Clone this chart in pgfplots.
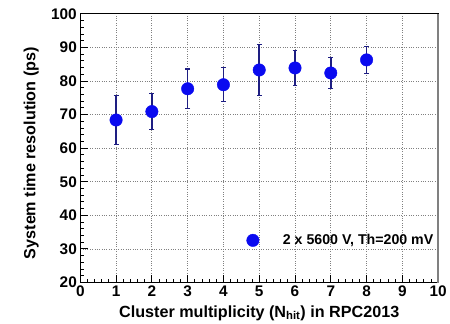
\documentclass[border=0pt]{standalone}
\usepackage{pgfplots}
\pgfplotsset{compat=1.18}
\usepackage{fontspec}
\setmainfont{Liberation Sans}
\definecolor{mblue}{RGB}{10,10,240}
\definecolor{ebar}{RGB}{30,30,130}
\begin{document}
\begin{tikzpicture}
\begin{axis}[
 scale only axis, width=361pt, height=271pt,
 xmin=0, xmax=10, ymin=20, ymax=100,
 xtick={0,1,2,3,4,5,6,7,8,9,10}, ytick={20,30,40,50,60,70,80,90,100},
 xticklabels={\textbf{0},\textbf{1},\textbf{2},\textbf{3},\textbf{4},\textbf{5},\textbf{6},\textbf{7},\textbf{8},\textbf{9},\textbf{10}},
 yticklabels={\textbf{20},\textbf{30},\textbf{40},\textbf{50},\textbf{60},\textbf{70},\textbf{80},\textbf{90},\textbf{100}},
 minor x tick num=4, minor y tick num=4,
 tick align=inside, xtick pos=bottom, ytick pos=left,
 major tick length=8pt, minor tick length=4pt,
 grid=major, major grid style={dotted, gray, line width=0.8pt},
 axis line style={line width=1pt},
 every tick/.style={black, line width=0.9pt},
 ticklabel style={font=\bfseries\fontsize{15.5}{15.5}\selectfont},
 xlabel={Cluster multiplicity (N$_{\mathbf{hit}}$) in RPC2013},
 ylabel={System time resolution (ps)},
 label style={font=\bfseries\fontsize{16.3}{16.3}\selectfont},
 xlabel style={at={(rel axis cs:0.5,-0.114)}, anchor=center},
 ylabel style={at={(rel axis cs:-0.137,0.4815)}, anchor=center},
 clip=false,
 legend style={draw=none, fill=none, at={(rel axis cs:0.456,0.157)}, anchor=west,
   font=\bfseries\fontsize{14.3}{14.3}\selectfont},
]
\addplot[only marks, mark=*, mark size=6.3pt, mark options={mblue, draw=mblue, fill=mblue},
  error bars/.cd, y dir=both, y explicit,
  error bar style={ebar, line width=1.5pt},
  error mark options={rotate=90, mark size=2.5pt, line width=1.2pt, ebar}]
 table[x=x, y=y, y error=e] {
 x y e
 1 68.4 7.3
 2 70.9 5.4
 3 77.7 5.9
 4 78.9 5.1
 5 83.3 7.5
 6 83.9 5.3
 7 82.4 4.7
 8 86.3 4.0
 };
\addlegendentry{\hspace{22pt}2 x 5600 V, Th=200 mV}
\draw[gray, line width=1.8pt] (rel axis cs:1,0) -- (rel axis cs:1,1);
\path (rel axis cs:-0.2244,-0.1476) rectangle (rel axis cs:1.0222,1.0517);
\end{axis}
\end{tikzpicture}
\end{document}
